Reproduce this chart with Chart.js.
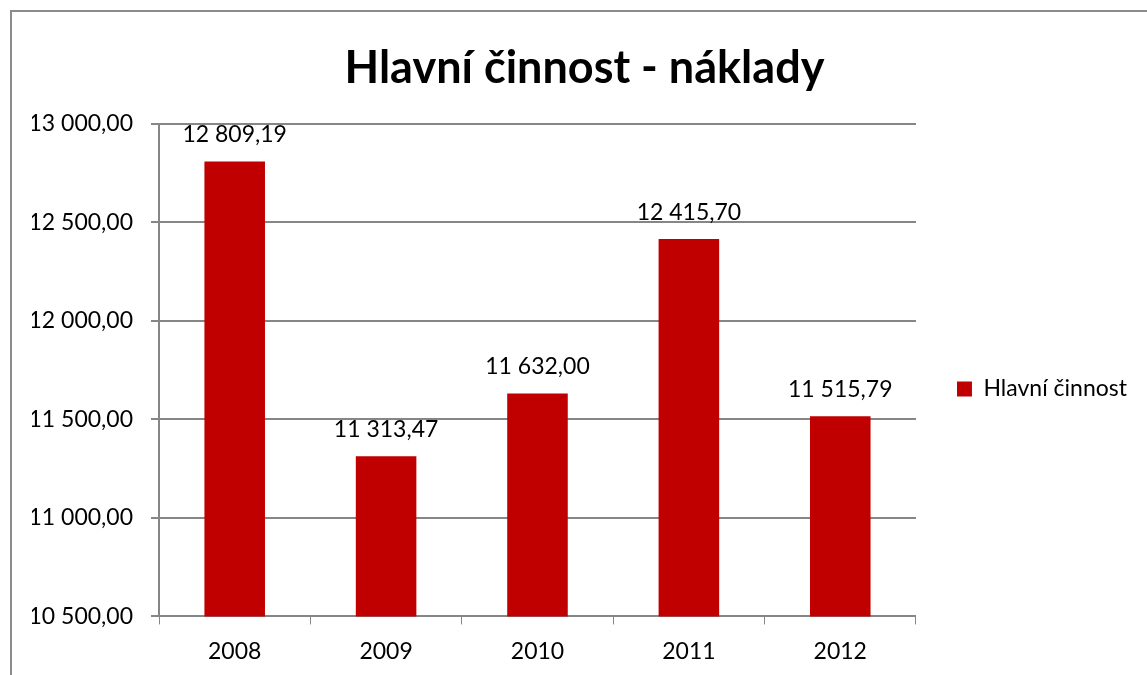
<!DOCTYPE html>
<html lang="cs">
<head>
  <meta charset="utf-8">
  <script src="https://cdn.jsdelivr.net/npm/chart.js@4.4.0/dist/chart.umd.min.js"></script>
  <style>
    html, body { margin: 0; padding: 0; width: 100%; height: 100%; overflow: hidden; background: #fff; }
    .chart-box { width: 1147px; height: 675px; position: relative; }
  </style>
</head>
<body>
  <div class="chart-box">
    <canvas id="nakladyChart"></canvas>
  </div>

  <script>
    // data
    const years = ['2008', '2009', '2010', '2011', '2012'];
    const hlavniCinnost = [12809.19, 11313.47, 11632.00, 12415.70, 11515.79];
    const yTicks = [10500, 11000, 11500, 12000, 12500, 13000];

    const FONT = 'Lato, "Noto Sans", sans-serif';

    // 12809.19 -> "12 809,19"
    function czNum(v) {
      const parts = v.toFixed(2).split('.');
      const whole = parts[0].replace(/\B(?=(\d{3})+(?!\d))/g, ' ');
      return whole + ',' + parts[1];
    }

    // gray frame round the chart (only left and top are in the crop)
    const framePlugin = {
      id: 'frame',
      beforeDraw(chart) {
        const c = chart.ctx;
        c.save();
        c.fillStyle = '#fff';
        c.fillRect(0, 0, chart.width, chart.height);
        c.strokeStyle = '#8c8c8c';
        c.lineWidth = 2;
        c.strokeRect(11, 11, chart.width + 20, chart.height + 20);
        c.restore();
      }
    };

    // value labels above each bar
    const valueLabels = {
      id: 'valueLabels',
      afterDatasetsDraw(chart) {
        const c = chart.ctx;
        const meta = chart.getDatasetMeta(0);
        c.save();
        c.font = '23px ' + FONT;
        c.fillStyle = '#000';
        c.textAlign = 'center';
        c.textBaseline = 'middle';
        meta.data.forEach((bar, i) => {
          c.fillText(czNum(chart.data.datasets[0].data[i]), bar.x, bar.y - 27);
        });
        c.restore();
      }
    };

    new Chart(document.getElementById('nakladyChart'), {
      type: 'bar',
      data: {
        labels: years,
        datasets: [{
          label: 'Hlavní činnost',
          data: hlavniCinnost,
          backgroundColor: '#c00000',
          borderWidth: 0,
          categoryPercentage: 1,
          barPercentage: 0.4
        }]
      },
      options: {
        responsive: true,
        maintainAspectRatio: false,
        animation: false,
        layout: { padding: { left: 32, right: 10, top: 8, bottom: -3 } },
        plugins: {
          title: {
            display: true,
            text: 'Hlavní činnost - náklady',
            color: '#000',
            font: { family: FONT, size: 45, weight: 'bold' },
            padding: { top: 33, bottom: 29 }
          },
          legend: {
            position: 'right',
            // empty title only pushes the single entry down
            title: {
              display: true,
              text: ' ',
              font: { size: 10 },
              padding: { top: 0, bottom: 80 }
            },
            labels: {
              color: '#000',
              font: { family: FONT, size: 23 },
              boxWidth: 15,
              boxHeight: 15,
              padding: 41
            }
          },
          tooltip: { enabled: false }
        },
        scales: {
          x: {
            offset: true,
            grid: {
              offset: true,
              drawOnChartArea: false,
              color: '#868686',
              tickLength: 8
            },
            border: { color: '#868686', width: 2 },
            ticks: {
              color: '#000',
              font: { family: FONT, size: 23 },
              padding: 13
            }
          },
          y: {
            min: yTicks[0],
            max: yTicks[yTicks.length - 1],
            afterBuildTicks(scale) {
              scale.ticks = yTicks.map(v => ({ value: v }));
            },
            afterFit(scale) { scale.width = 127; },
            grid: {
              color: '#868686',
              lineWidth: 2,
              tickLength: 8
            },
            border: { color: '#868686', width: 2 },
            ticks: {
              color: '#000',
              font: { family: FONT, size: 23 },
              padding: 18,
              callback: v => czNum(v)
            }
          }
        }
      },
      plugins: [framePlugin, valueLabels]
    });
  </script>
</body>
</html>
